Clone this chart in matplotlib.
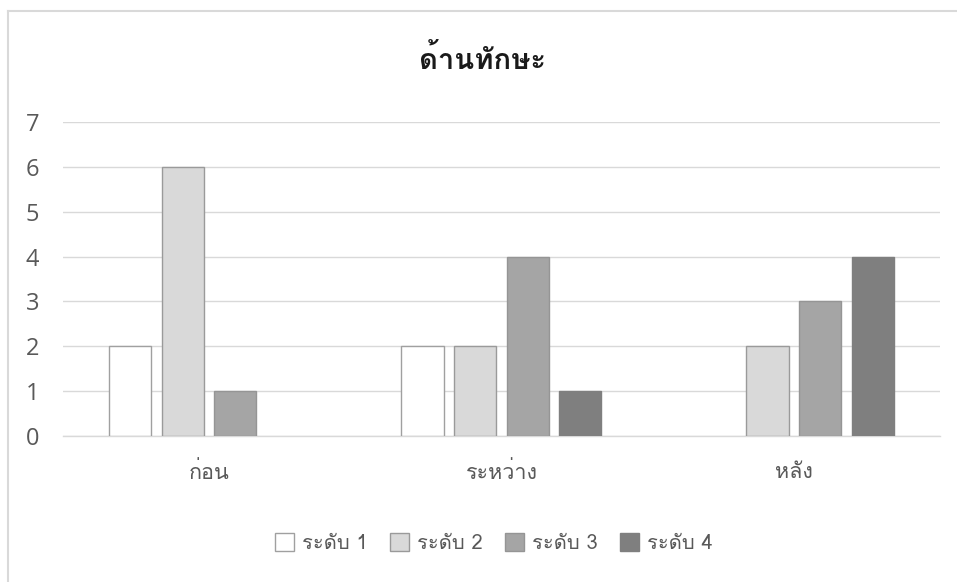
import matplotlib
matplotlib.use('Agg')
import matplotlib.pyplot as plt
from matplotlib import font_manager
from matplotlib.ft2font import FT2Font
from matplotlib.lines import Line2D
import numpy as np

CATEGORIES = ['ก่อน', 'ระหว่าง', 'หลัง']
SERIES = ['ระดับ 1', 'ระดับ 2', 'ระดับ 3', 'ระดับ 4']
VALUES = [
    [2, 2, 0],   # ระดับ 1
    [6, 2, 2],   # ระดับ 2
    [1, 4, 3],   # ระดับ 3
    [0, 1, 4],   # ระดับ 4
]
TITLE = 'ด้านทักษะ'
Y_TICKS = [0, 1, 2, 3, 4, 5, 6, 7]

FILLS = ['#FFFFFF', '#D9D9D9', '#A5A5A5', '#7F7F7F']
EDGES = ['#A0A0A0', '#9A9A9A', '#959595', '#7F7F7F']


def thai_family():
    """Return the first installed family that has Thai glyphs."""
    seen = set()
    for f in font_manager.fontManager.ttflist:
        if f.name in seen:
            continue
        seen.add(f.name)
        try:
            cmap = FT2Font(f.fname).get_charmap()
        except Exception:
            continue
        if 0x0E01 in cmap and 0x0E48 in cmap:
            return f.name
    return None


fam = thai_family()
families = ([fam] if fam else []) + ['DejaVu Sans']
plt.rcParams['font.family'] = families

fig = plt.figure(figsize=(9.57, 5.82), dpi=100)
ax = fig.add_axes([0.0658, 0.2509, 0.9164, 0.5395])

x = np.arange(len(CATEGORIES))
width = 0.144
step = 0.18
for i, (name, vals) in enumerate(zip(SERIES, VALUES)):
    offs = (i - 1.5) * step
    for xi, v in zip(x, vals):
        if v == 0:
            continue
        ax.bar(xi + offs, v, width, color=FILLS[i], edgecolor=EDGES[i],
               linewidth=1.0, zorder=3)

ax.set_xlim(-0.5, 2.5)
ax.set_ylim(0, 7)
ax.set_yticks(Y_TICKS)
ax.set_yticklabels([str(t) for t in Y_TICKS])
for lbl in ax.get_yticklabels():
    lbl.set_fontfamily(['Open Sans', 'DejaVu Sans'])
    lbl.set_fontsize(17)
    lbl.set_color('#595959')
ax.set_xticks(x)
ax.set_xticklabels(CATEGORIES, fontsize=15.5, color='#595959')
ax.tick_params(axis='both', length=0)
ax.tick_params(axis='y', pad=17)
ax.tick_params(axis='x', pad=19)
ax.yaxis.grid(True, color='#D9D9D9', linewidth=1.0, zorder=0)
ax.set_axisbelow(True)
for s in ['top', 'right', 'left']:
    ax.spines[s].set_visible(False)
ax.spines['bottom'].set_color('#D9D9D9')
ax.spines['bottom'].set_linewidth(1.0)

fig.text(0.504, 0.897, TITLE, ha='center', va='center', fontsize=21,
         fontweight='bold', color='#1a1a1a')

handles = [plt.Rectangle((0, 0), 1, 1, facecolor=FILLS[i], edgecolor=EDGES[i], linewidth=1.0)
           for i in range(len(SERIES))]
leg = fig.legend(handles, SERIES, loc='center', bbox_to_anchor=(0.516, 0.067),
                 ncol=4, frameon=False, fontsize=14.5, handlelength=0.95,
                 handleheight=0.95, handletextpad=0.4, columnspacing=1.1)
for t in leg.get_texts():
    t.set_color('#595959')

# chart frame, only the top and left edges show
fig.add_artist(Line2D([0.0085, 1.0], [0.981, 0.981], color='#D9D9D9', linewidth=1.5,
                      transform=fig.transFigure))
fig.add_artist(Line2D([0.0085, 0.0085], [0.0, 0.981], color='#D9D9D9', linewidth=1.5,
                      transform=fig.transFigure))

fig.savefig('out.png', dpi=100)
